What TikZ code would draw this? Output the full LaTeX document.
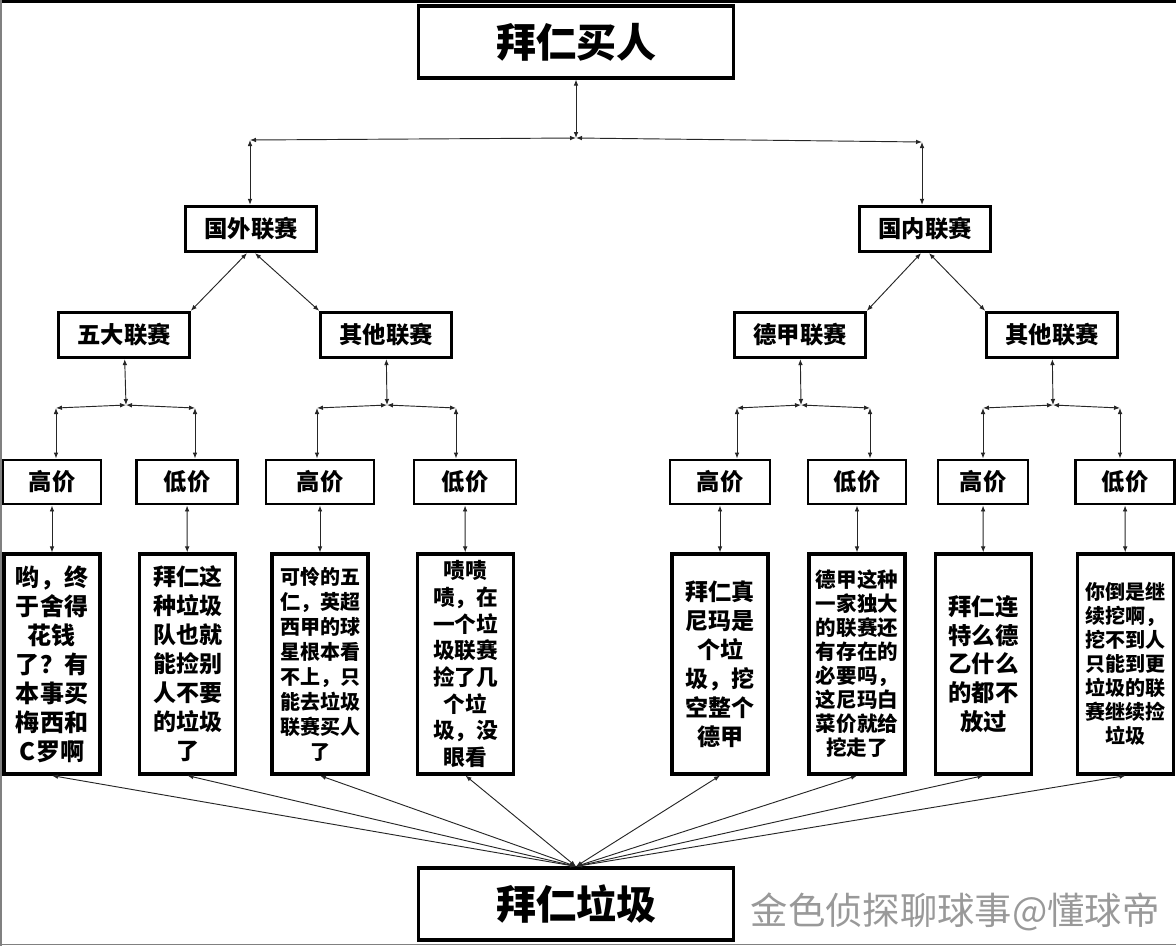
\documentclass[tikz,border=0pt]{standalone}
\usepackage{fontspec}
\setmainfont{Noto Sans CJK SC}
\usetikzlibrary{arrows.meta}
\tikzstyle{tb}=[rectangle,draw=black,line width=2.4pt,inner sep=0pt,
  minimum width=236pt,minimum height=54pt,font=\fontsize{30}{36}\selectfont\bfseries]
\tikzstyle{lb}=[rectangle,draw=black,line width=2.2pt,inner sep=0pt,
  minimum width=98pt,minimum height=34pt,font=\fontsize{17.5}{20}\selectfont\bfseries]
\tikzstyle{pb}=[rectangle,draw=black,line width=2.2pt,inner sep=0pt,
  minimum width=73.5pt,minimum height=33pt,font=\fontsize{17.5}{20}\selectfont\bfseries]
\tikzstyle{cb}=[rectangle,draw=black,line width=2.4pt,inner sep=0pt,align=center,
  minimum width=72pt,minimum height=165pt]
\tikzstyle{ar}=[{Latex[length=4.5pt,width=3.5pt]}-{Latex[length=4.5pt,width=3.5pt]},
  line width=0.7pt,draw=black!85]

\begin{document}
\begin{tikzpicture}[x=0.75pt,y=-0.75pt]
    \useasboundingbox (0,0) rectangle (1176,946);
    \draw [line width=2.4pt] (0,1.5) to (1176,1.5);
    \draw [gray,line width=1pt] (1,0) to (1,946);
    \draw [gray,line width=1pt] (0,944.5) to (1176,944.5);
    \node [style=tb] (buy) at (576,42) {拜仁买人};
    \node [style=tb] (junk) at (576,904) {拜仁垃圾};
    \node [style=lb] (abroad) at (251,229) {国外联赛};
    \node [style=lb] (home) at (925,229) {国内联赛};
    \node [style=lb] (big5) at (124,335) {五大联赛};
    \node [style=lb] (other1) at (386,335) {其他联赛};
    \node [style=lb] (buli) at (800,335) {德甲联赛};
    \node [style=lb] (other2) at (1052,335) {其他联赛};
    \node [style=pb] (hi1) at (52,482) {高价};
    \node [style=pb,minimum width=75.75pt] (lo1) at (187,482) {低价};
    \node [style=pb,minimum width=81pt] (hi2) at (320,482) {高价};
    \node [style=pb,minimum width=76.5pt] (lo2) at (465,482) {低价};
    \node [style=pb,minimum width=75pt] (hi3) at (720,482) {高价};
    \node [style=pb] (lo3) at (857,482) {低价};
    \node [style=pb,minimum width=67.5pt] (hi4) at (983,482) {高价};
    \node [style=pb,minimum width=74.25pt] (lo4) at (1125,482) {低价};
    \node [style=cb,font=\fontsize{18}{21.75}\selectfont\bfseries] (c1) at (52,664)
      {哟，终\\于舍得\\花钱\\了？有\\本事买\\梅西和\\C罗啊};
    \node [style=cb,font=\fontsize{17.25}{21.75}\selectfont\bfseries] (c2) at (187.5,664)
      {拜仁这\\种垃圾\\队也就\\能捡别\\人不要\\的垃圾\\了};
    \node [style=cb,font=\fontsize{15}{18.75}\selectfont\bfseries] (c3) at (320,664)
      {可怜的五\\仁，英超\\西甲的球\\星根本看\\不上，只\\能去垃圾\\联赛买人\\了};
    \node [style=cb,font=\fontsize{16.25}{20}\selectfont\bfseries] (c4) at (465.5,664)
      {啧啧\\啧，在\\一个垃\\圾联赛\\捡了几\\个垃\\圾，没\\眼看};
    \node [style=cb,font=\fontsize{17.25}{21.75}\selectfont\bfseries] (c5) at (720,664)
      {拜仁真\\尼玛是\\个垃\\圾，挖\\空整个\\德甲};
    \node [style=cb,font=\fontsize{15.4}{18}\selectfont\bfseries] (c6) at (857,664)
      {德甲这种\\一家独大\\的联赛还\\有存在的\\必要吗，\\这尼玛白\\菜价就给\\挖走了};
    \node [style=cb,font=\fontsize{17.5}{21.5}\selectfont\bfseries] (c7) at (983.5,664)
      {拜仁连\\特么德\\乙什么\\的都不\\放过};
    \node [style=cb,font=\fontsize{15}{18}\selectfont\bfseries] (c8) at (1125.5,664)
      {你倒是继\\续挖啊，\\挖不到人\\只能到更\\垃圾的联\\赛继续捡\\垃圾};
    \node [text=gray!80,font=\fontsize{28}{30}\selectfont,anchor=west] (mark) at (746,912)
      {金色侦探聊球事@懂球帝};
    % branch points
    \coordinate (j0) at (576,138);
    \coordinate (j0l) at (250,140);
    \coordinate (j0r) at (922,142);
    \coordinate (j1) at (126,405);
    \coordinate (j1l) at (56,408);
    \coordinate (j1r) at (195,408);
    \coordinate (j2) at (387,405);
    \coordinate (j2l) at (317,408);
    \coordinate (j2r) at (456,408);
    \coordinate (j3) at (801,405);
    \coordinate (j3l) at (737,408);
    \coordinate (j3r) at (870,408);
    \coordinate (j4) at (1053,405);
    \coordinate (j4l) at (983,408);
    \coordinate (j4r) at (1120,408);
    \draw [style=ar] (j0) to (buy);
    \draw [style=ar] (j0) to (j0l);
    \draw [style=ar] (j0) to (j0r);
    \draw [style=ar] (j0l) to (j0l |- abroad.north);
    \draw [style=ar] (j0r) to (j0r |- home.north);
    \draw [style=ar] ([xshift=-3pt]abroad.south) to (big5.north east);
    \draw [style=ar] ([xshift=3pt]abroad.south) to (other1.north west);
    \draw [style=ar] ([xshift=-3pt]home.south) to (buli.north east);
    \draw [style=ar] ([xshift=3pt]home.south) to (other2.north west);
    \draw [style=ar] (big5) to (j1);
    \draw [style=ar] (j1) to (j1l);
    \draw [style=ar] (j1) to (j1r);
    \draw [style=ar] (j1l) to (j1l |- hi1.north);
    \draw [style=ar] (j1r) to (j1r |- lo1.north);
    \draw [style=ar] (other1) to (j2);
    \draw [style=ar] (j2) to (j2l);
    \draw [style=ar] (j2) to (j2r);
    \draw [style=ar] (j2l) to (j2l |- hi2.north);
    \draw [style=ar] (j2r) to (j2r |- lo2.north);
    \draw [style=ar] (buli) to (j3);
    \draw [style=ar] (j3) to (j3l);
    \draw [style=ar] (j3) to (j3r);
    \draw [style=ar] (j3l) to (j3l |- hi3.north);
    \draw [style=ar] (j3r) to (j3r |- lo3.north);
    \draw [style=ar] (other2) to (j4);
    \draw [style=ar] (j4) to (j4l);
    \draw [style=ar] (j4) to (j4r);
    \draw [style=ar] (j4l) to (j4l |- hi4.north);
    \draw [style=ar] (j4r) to (j4r |- lo4.north);
    \draw [style=ar] (hi1) to (c1);
    \draw [style=ar] (lo1) to (c2);
    \draw [style=ar] (hi2) to (c3);
    \draw [style=ar] (lo2) to (c4);
    \draw [style=ar] (hi3) to (c5);
    \draw [style=ar] (lo3) to (c6);
    \draw [style=ar] (hi4) to (c7);
    \draw [style=ar] (lo4) to (c8);
    \foreach \c in {c1,c2,c3,c4,c5,c6,c7,c8}
      \draw [style=ar] (junk.north) to (\c.south);
\end{tikzpicture}
\end{document}
